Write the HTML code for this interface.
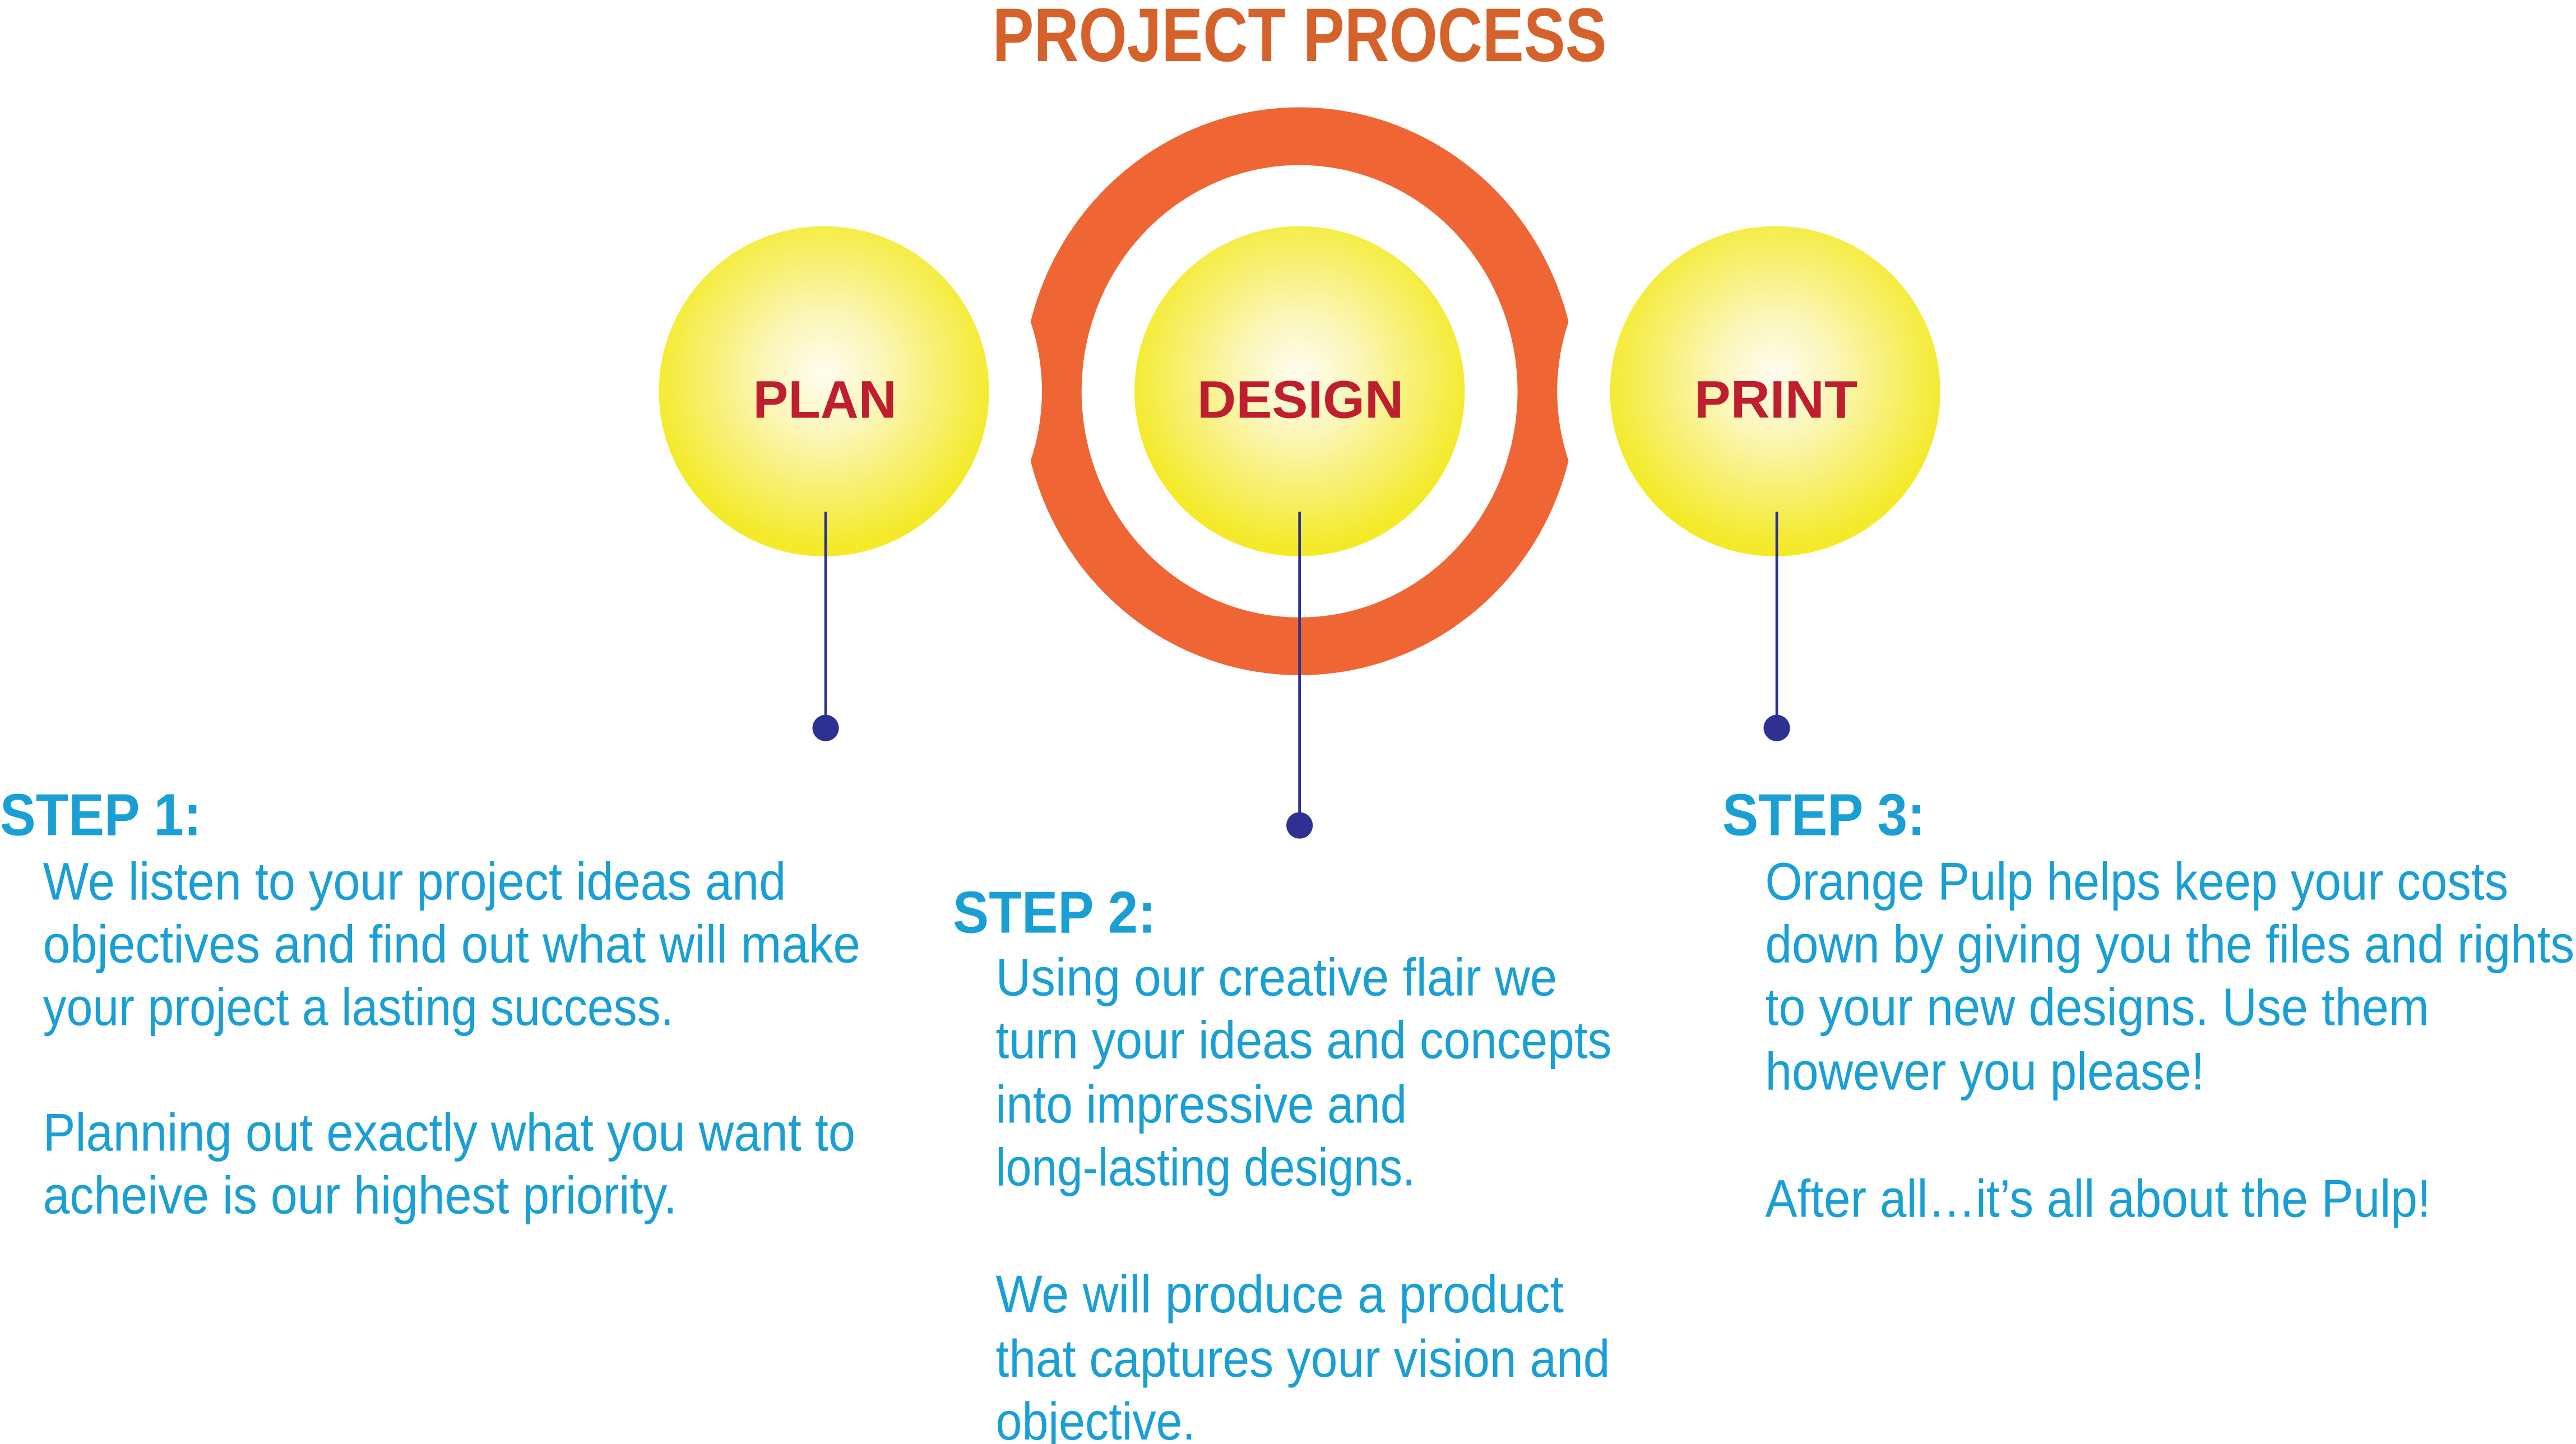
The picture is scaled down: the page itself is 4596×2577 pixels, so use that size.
<!DOCTYPE html>
<html><head><meta charset="utf-8"><style>html,body{margin:0;padding:0;background:#fff}svg{display:block}</style></head>
<body>
<svg width="4596" height="2577" viewBox="0 0 1560 874.7" preserveAspectRatio="none" xmlns="http://www.w3.org/2000/svg">
<defs>
<radialGradient id="yg" cx="50%" cy="45%" r="52%"><stop offset="0" stop-color="#fffdf0"/><stop offset="0.35" stop-color="#fbf6b8"/><stop offset="1" stop-color="#f4ea2a"/></radialGradient>
<mask id="ringmask"><rect width="1560" height="875" fill="#fff"/><circle cx="499" cy="237" r="132" fill="#000"/><circle cx="1075" cy="237" r="132" fill="#000"/></mask>
</defs>
<text x="601" y="37" textLength="372" lengthAdjust="spacingAndGlyphs" font-family="Liberation Sans, sans-serif" font-weight="bold" font-size="46" fill="#d4622a">PROJECT PROCESS</text>
<path mask="url(#ringmask)" fill="#ef6534" fill-rule="evenodd" d="M787,65 a168,172 0 1,0 0.01,0 Z M787,100 a132,137 0 1,0 0.01,0 Z"/>
<circle cx="499" cy="237" r="100" fill="url(#yg)"/>
<circle cx="787" cy="237" r="100" fill="url(#yg)"/>
<circle cx="1075" cy="237" r="100" fill="url(#yg)"/>
<g font-family="Liberation Sans, sans-serif" font-weight="bold" font-size="32" fill="#be1e2d">
<text x="456" y="253" textLength="87" lengthAdjust="spacingAndGlyphs">PLAN</text>
<text x="725" y="253" textLength="125" lengthAdjust="spacingAndGlyphs">DESIGN</text>
<text x="1026" y="253" textLength="99" lengthAdjust="spacingAndGlyphs">PRINT</text>
</g>
<g stroke="#2e3192" stroke-width="1.6">
<line x1="500" y1="310" x2="500" y2="441"/>
<line x1="787" y1="310" x2="787" y2="500"/>
<line x1="1076" y1="310" x2="1076" y2="441"/>
</g>
<g fill="#2e3192">
<circle cx="500" cy="441" r="8"/>
<circle cx="787" cy="500" r="8"/>
<circle cx="1076" cy="441" r="8"/>
</g>
<g font-family="Liberation Sans, sans-serif" font-weight="bold" font-size="36" fill="#1a9fd4">
<text x="0" y="506" textLength="122" lengthAdjust="spacingAndGlyphs">STEP 1:</text>
<text x="577" y="565" textLength="123" lengthAdjust="spacingAndGlyphs">STEP 2:</text>
<text x="1043" y="506" textLength="123" lengthAdjust="spacingAndGlyphs">STEP 3:</text>
</g>
<g font-family="Liberation Sans, sans-serif" font-size="32" fill="#1a9fd4">
<g>
<text x="26" y="545" textLength="450" lengthAdjust="spacingAndGlyphs">We listen to your project ideas and</text>
<text x="26" y="583" textLength="495" lengthAdjust="spacingAndGlyphs">objectives and find out what will make</text>
<text x="26" y="621" textLength="382" lengthAdjust="spacingAndGlyphs">your project a lasting success.</text>
<text x="26" y="697" textLength="492" lengthAdjust="spacingAndGlyphs">Planning out exactly what you want to</text>
<text x="26" y="735" textLength="384" lengthAdjust="spacingAndGlyphs">acheive is our highest priority.</text>
</g>
<g>
<text x="603" y="603" textLength="340" lengthAdjust="spacingAndGlyphs">Using our creative flair we</text>
<text x="603" y="641" textLength="373" lengthAdjust="spacingAndGlyphs">turn your ideas and concepts</text>
<text x="603" y="680" textLength="249" lengthAdjust="spacingAndGlyphs">into impressive and</text>
<text x="603" y="718" textLength="254" lengthAdjust="spacingAndGlyphs">long-lasting designs.</text>
<text x="603" y="795" textLength="344" lengthAdjust="spacingAndGlyphs">We will produce a product</text>
<text x="603" y="834" textLength="372" lengthAdjust="spacingAndGlyphs">that captures your vision and</text>
<text x="603" y="872" textLength="121" lengthAdjust="spacingAndGlyphs">objective.</text>
</g>
<g>
<text x="1069" y="545" textLength="450" lengthAdjust="spacingAndGlyphs">Orange Pulp helps keep your costs</text>
<text x="1069" y="583" textLength="490" lengthAdjust="spacingAndGlyphs">down by giving you the files and rights</text>
<text x="1069" y="621" textLength="402" lengthAdjust="spacingAndGlyphs">to your new designs. Use them</text>
<text x="1069" y="660" textLength="266" lengthAdjust="spacingAndGlyphs">however you please!</text>
<text x="1069" y="737" textLength="403" lengthAdjust="spacingAndGlyphs">After all…it’s all about the Pulp!</text>
</g>
</g>
</svg>
</body></html>
